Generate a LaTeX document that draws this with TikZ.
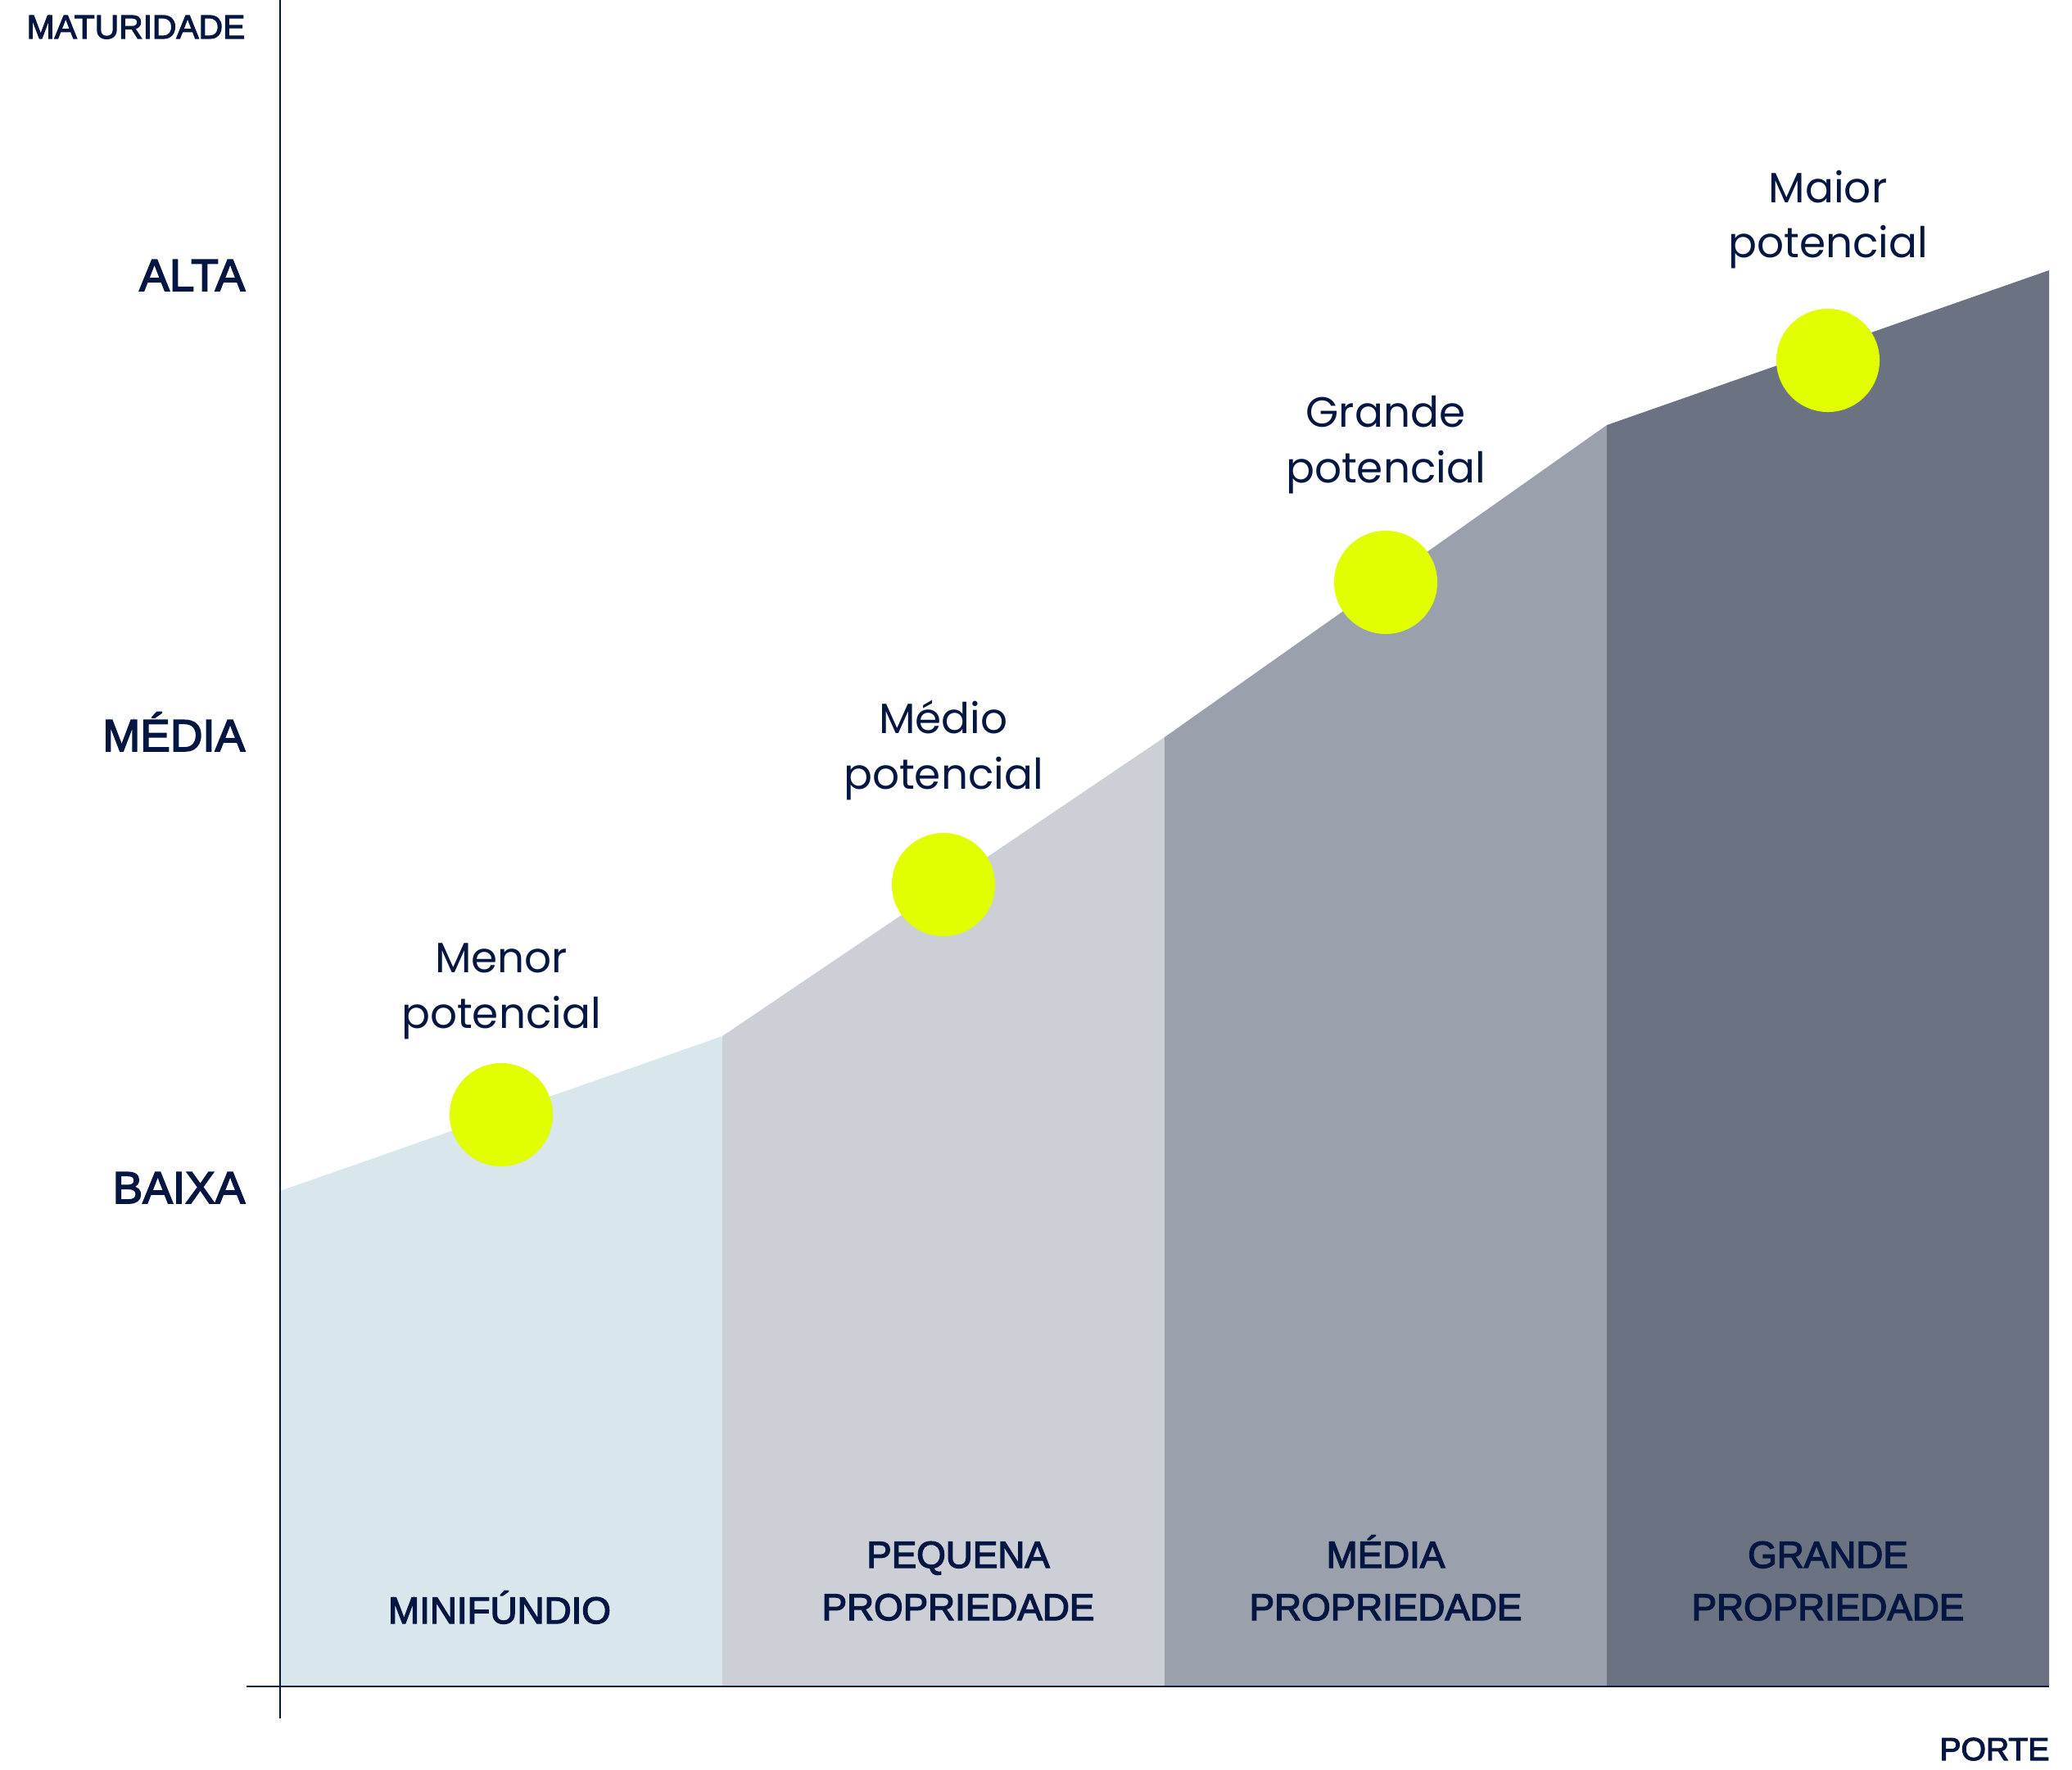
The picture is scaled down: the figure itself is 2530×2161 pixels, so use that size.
\documentclass[tikz,border=0pt]{standalone}
\usepackage{fontspec}
\newfontfamily\capsfont[FakeBold=3]{Liberation Sans}
\newfontfamily\potfont{Poppins}
\definecolor{ink}{RGB}{5,22,66}
\definecolor{lime}{RGB}{225,255,0}
\definecolor{bandA}{RGB}{217,231,237}
\definecolor{bandB}{RGB}{204,207,213}
\definecolor{bandC}{RGB}{154,160,172}
\definecolor{bandD}{RGB}{107,114,130}
\tikzset{ dot/.style = { circle % spot on the profile
        , fill = lime
        , minimum size = 1.26cm
        , inner sep = 0pt
        }
        , lvl/.style = { anchor = base east % maturity level
        , inner sep = 0pt
        , text = ink
        , font = \capsfont\fontsize{15.6}{18}\selectfont
        }
        , pot/.style = { anchor = base % potential label
        , align = center
        , inner sep = 0pt
        , text = ink
        , font = \potfont\fontsize{14.7}{19.1}\selectfont
        }
        , size/.style = { anchor = base % property size
        , align = center
        , inner sep = 0pt
        , text = ink
        , font = \capsfont\fontsize{13}{18.2}\selectfont
        }
        }

\begin{document}
\begin{tikzpicture}[x=0.01cm, y=-0.01cm,
        axis_style/.style={draw=ink, line width=0.65pt},
        band_style/.style={draw=none}]
        \useasboundingbox (0,0) rectangle (2530,2161);

        \coordinate (p0) at (342,1454);
        \coordinate (p1) at (882,1265);
        \coordinate (p2) at (1422,900);
        \coordinate (p3) at (1962,519);
        \coordinate (p4) at (2502,330);
        \coordinate (b0) at (342,2059);
        \coordinate (b1) at (882,2059);
        \coordinate (b2) at (1422,2059);
        \coordinate (b3) at (1962,2059);
        \coordinate (b4) at (2502,2059);

        \fill [band_style, bandA] (b0) -- (p0) -- (p1) -- (b1) -- cycle;
        \fill [band_style, bandB] (b1) -- (p1) -- (p2) -- (b2) -- cycle;
        \fill [band_style, bandC] (b2) -- (p2) -- (p3) -- (b3) -- cycle;
        \fill [band_style, bandD] (b3) -- (p3) -- (p4) -- (b4) -- cycle;

        \coordinate (ytop) at (342,0);
        \coordinate (ybot) at (342,2098);
        \coordinate (xleft) at (301,2059);
        \draw [axis_style] (ytop) -- (ybot);
        \draw [axis_style] (xleft) -- (b4);

        \node [dot](d1) at (612,1361) {};
        \node [dot](d2) at (1152,1080) {};
        \node [dot](d3) at (1692,711) {};
        \node [dot](d4) at (2232,440) {};

        % base = last line
        \node [pot](t1) at (612,1255) {Menor\\potencial};
        \node [pot](t2) at (1152,963) {Médio\\potencial};
        \node [pot](t3) at (1692,589) {Grande\\potencial};
        \node [pot](t4) at (2232,315) {Maior\\potencial};

        \node [lvl, font=\capsfont\fontsize{11.6}{14}\selectfont](yname) at (300,47) {MATURIDADE};
        \node [lvl](alta) at (300,355) {ALTA};
        \node [lvl](media) at (300,917) {MÉDIA};
        \node [lvl](baixa) at (300,1469) {BAIXA};

        \node [size](s1) at (610,1982) {MINIFÚNDIO};
        \node [size](s2) at (1170,1978) {PEQUENA\\PROPRIEDADE};
        \node [size](s3) at (1692,1978) {MÉDIA\\PROPRIEDADE};
        \node [size](s4) at (2232,1978) {GRANDE\\PROPRIEDADE};

        \node [lvl, font=\capsfont\fontsize{11.1}{14}\selectfont](xname) at (2503,2149) {PORTE};
\end{tikzpicture}
\end{document}
